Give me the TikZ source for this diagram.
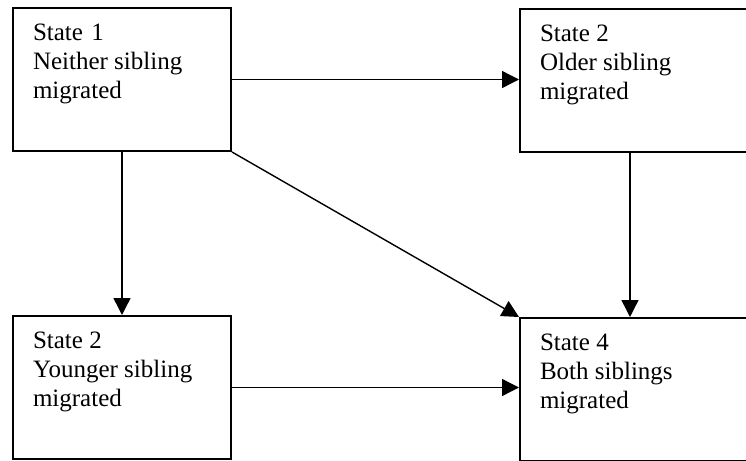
\documentclass[tikz,border=0pt]{standalone}
\usepackage{fontspec}
\setmainfont{Liberation Serif}
\usetikzlibrary{arrows.meta, positioning}
% text block of a state box: width, then three lines
\newcommand{\stxt}[4]{\parbox[c][71.5pt][t]{#1}{\fontsize{12.5}{14.5}\selectfont\vspace{8pt}#2\\#3\\#4}}
\tikzset{
  sbox/.style={draw, line width=1pt, anchor=north west, inner xsep=10pt,
               inner ysep=0pt, minimum height=71.5pt, align=left},
  arr/.style={-{Triangle[length=8.5pt, width=8.5pt]}, line width=0.7pt},
}
\begin{document}
\begin{tikzpicture}[x=0.5pt, y=-0.5pt]
  \useasboundingbox (0,0) rectangle (746,461);
  \clip (0,0) rectangle (746,461);
  \node[sbox] (s1) at (12,7)
    {\stxt{89pt}{State\,\,1}{Neither sibling}{migrated}};
  \node[sbox] (s2) at (519,8)
    {\stxt{100pt}{State 2}{Older sibling}{migrated}};
  \node[sbox] (s3) at (12,315)
    {\stxt{89pt}{State 2}{Younger sibling}{migrated}};
  \node[sbox] (s4) at (519,317)
    {\stxt{100pt}{State 4}{Both siblings}{migrated}};
  % transitions
  \draw[arr] (s1.east) -- (s1.east -| s2.west);
  \draw[arr] (s1.south) -- (s3.north);
  \draw[arr] (s1.south east) -- (s4.north west);
  \draw[arr] ([xshift=-5pt]s2.south) -- ([xshift=-5pt]s4.north);
  \draw[arr] (s3.east) -- (s3.east -| s4.west);
\end{tikzpicture}
\end{document}
